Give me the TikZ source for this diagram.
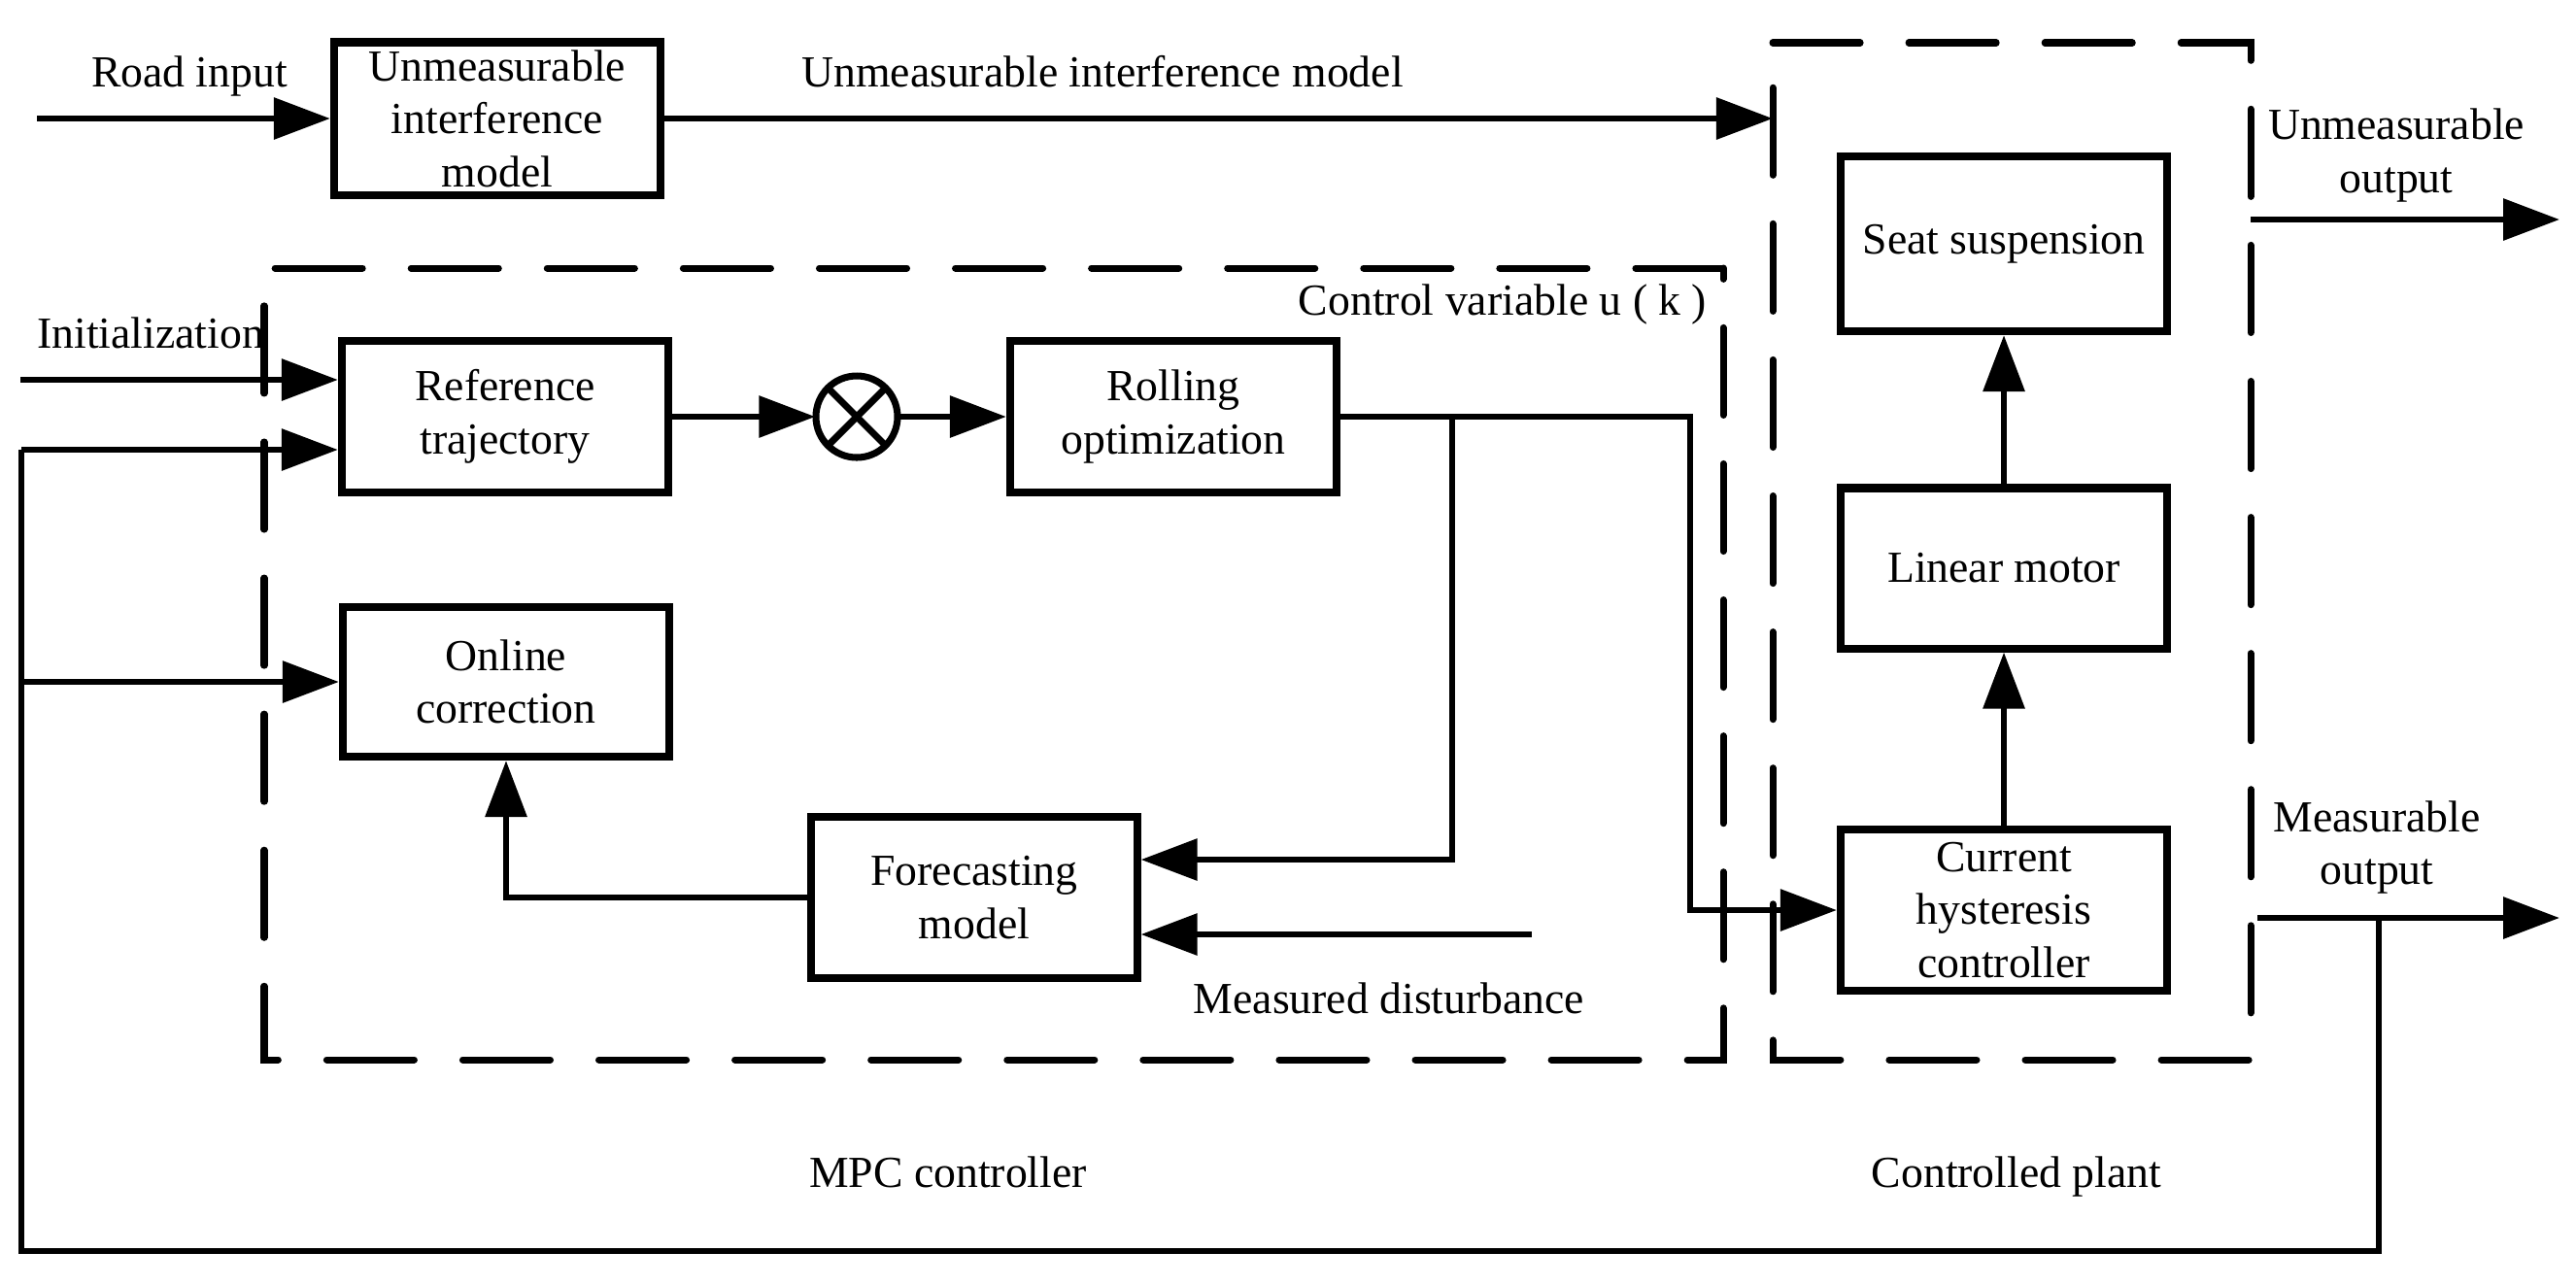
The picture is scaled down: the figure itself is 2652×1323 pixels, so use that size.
\documentclass[tikz,border=0pt]{standalone}
\usepackage{fontspec}
\setmainfont{Liberation Serif}
\usetikzlibrary{arrows.meta}
\begin{document}
\begin{tikzpicture}[x=0.01cm,y=-0.01cm,
  font=\fontsize{13}{15.5}\selectfont,
  blk/.style={draw,line width=2.3pt,minimum width=3.36cm,align=center,inner sep=0pt},
  conn/.style={line width=1.8pt},
  arr/.style={conn,-{Triangle[length=5.8mm,width=4.2mm]}},
  grp/.style={line width=2pt,dash pattern=on 0.9cm off 0.5cm,line cap=round},
  lbl/.style={anchor=base,inner sep=0pt,align=center}]
\useasboundingbox (0,0) rectangle (2652,1323);
% dashed groups
\draw[grp] (1774,276) -- (272,276) -- (272,1091) -- (1774,1091) -- cycle;
\draw[grp] (1825,44) -- (2317,44) -- (2317,1091) -- (1825,1091) -- cycle;
% blocks
\node[blk,minimum height=1.57cm] (uim) at (512,122) {Unmeasurable\\interference\\model};
\node[blk,minimum height=1.56cm] (ref) at (520,429) {Reference\\trajectory};
\draw[line width=2pt] (882,429) circle (42);
\node[circle,minimum size=0.84cm,inner sep=0pt] (sum) at (882,429) {};
\draw[line width=2pt] (sum.north west) -- (sum.south east) (sum.north east) -- (sum.south west);
\node[blk,minimum height=1.56cm] (roll) at (1208,429) {Rolling\\optimization};
\node[blk,minimum height=1.54cm] (online) at (521,702) {Online\\correction};
\node[blk,minimum width=3.35cm,minimum height=1.66cm] (fore) at (1003,924) {Forecasting\\model};
\node[blk,minimum height=1.80cm] (seat) at (2063,251) {Seat suspension};
\node[blk,minimum height=1.65cm] (motor) at (2063,585) {Linear motor};
\node[blk,minimum height=1.66cm] (chc) at (2063,937) {Current\\hysteresis\\controller};
% free coordinates
\coordinate (roadin) at (38,122);
\coordinate (plantin) at (1825,122);
\coordinate (initin) at (21,391);
\coordinate (fbstart) at (2449,945);
\coordinate (fbbr) at (2449,1288);
\coordinate (fbbl) at (22,1288);
\coordinate (fbtop) at (22,463);
\coordinate (fbon) at (22,702);
\coordinate (rollc) at (1740,429);
\coordinate (rollj) at (1495,429);
\coordinate (mdist) at (1577,962);
\coordinate (uoutA) at (2317,226);
\coordinate (uoutB) at (2635,226);
\coordinate (moutA) at (2324,945);
\coordinate (moutB) at (2635,945);
% connectors
\draw[arr] (roadin) -- (uim.west);
\draw[arr] (uim.east) -- (plantin);
\draw[arr] (initin) -- (initin -| ref.west);
\draw[conn] (fbstart) -- (fbbr) -- (fbbl) -- (fbtop);
\draw[arr] (fbtop) -- (fbtop -| ref.west);
\draw[arr] (fbon) -- (online.west);
\draw[arr] (ref.east) -- (sum.west);
\draw[arr] (sum.east) -- (roll.west);
\draw[arr] (roll.east) -- (rollc) -- (rollc |- chc.west) -- (chc.west);
\draw[arr] (rollj) -- (1495,885) -- (fore.east |- 0,885);
\draw[arr] (mdist) -- (fore.east |- mdist);
\draw[arr] (fore.west) -- (fore.west -| online.south) -- (online.south);
\draw[arr] (chc.north) -- (motor.south);
\draw[arr] (motor.north) -- (seat.south);
\draw[arr] (uoutA) -- (uoutB);
\draw[arr] (moutA) -- (moutB);
% labels
\node[lbl] (t1) at (195,89) {Road input};
\node[lbl] (t2) at (1135,89) {Unmeasurable interference model};
\node[lbl] (t3) at (155,358) {Initialization};
\node[lbl] (t4) at (1547,324) {Control variable u ( k )};
\node[lbl] (t5) at (2467,143) {Unmeasurable};
\node[lbl] (t6) at (2467,198) {output};
\node[lbl] (t7) at (2447,856) {Measurable};
\node[lbl] (t8) at (2447,910) {output};
\node[lbl] (t9) at (1430,1043) {Measured disturbance};
\node[lbl] (t10) at (976,1222) {MPC controller};
\node[lbl] (t11) at (2076,1222) {Controlled plant};
\end{tikzpicture}
\end{document}
